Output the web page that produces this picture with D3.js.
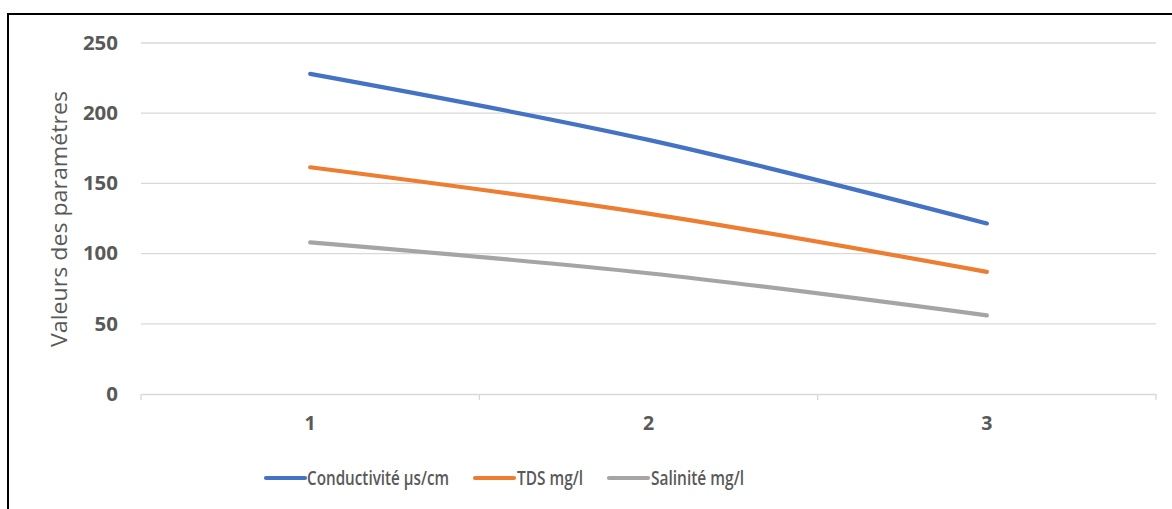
<!DOCTYPE html>
<html><head><meta charset="utf-8">
<script src="https://cdn.jsdelivr.net/npm/d3@7"></script>
<style>body{margin:0;background:#fff}svg{display:block}</style>
</head><body>
<script>
const categories = ["1", "2", "3"];
const seriesNames = ["Conductivité µs/cm", "TDS mg/l", "Salinité mg/l"];
const conductivite = [228, 181, 121.5];
const tds = [161.5, 128.5, 87];
const salinite = [108, 86, 56];
const yTicks = [0, 50, 100, 150, 200, 250];
const colors = ["#4472C4", "#ED7D31", "#A5A5A5"];
const seriesValues = [conductivite, tds, salinite];

(function () {
const W = 1172, H = 509;
const svg = d3.select("body").append("svg").attr("width", W).attr("height", H);
svg.append("rect").attr("width", W).attr("height", H).attr("fill", "#fff");
svg.append("rect").attr("x", 8).attr("y", 14).attr("width", W + 20).attr("height", H + 20)
  .attr("fill", "none").attr("stroke", "#000").attr("stroke-width", 2);

const pLeft = 141, pRight = 1156, pTop = 43, pBottom = 394;
const x = d3.scaleBand().domain(categories).range([pLeft, pRight]);
const y = d3.scaleLinear().domain([0, 250]).range([pBottom, pTop]);
const font = "'Open Sans', 'Liberation Sans', sans-serif";
const textCol = "#595959";

// gridlines
svg.append("g").selectAll("line").data(yTicks.filter(d => d > 0)).join("line")
  .attr("x1", pLeft).attr("x2", pRight).attr("y1", d => y(d)).attr("y2", d => y(d))
  .attr("stroke", "#D9D9D9").attr("stroke-width", 1.3);

// y axis labels
const ya = svg.append("g").attr("transform", `translate(${pLeft},0)`)
  .call(d3.axisLeft(y).tickValues(yTicks).tickSize(0).tickPadding(23));
ya.select(".domain").remove();
ya.selectAll("text").attr("font-family", font).attr("font-size", 19.5).attr("font-weight", "bold").attr("fill", textCol)
  .attr("textLength", d => String(d).length * 11.7).attr("lengthAdjust", "spacingAndGlyphs");

// x axis
const xa = svg.append("g").attr("transform", `translate(0,${pBottom})`)
  .call(d3.axisBottom(x).tickSize(0).tickPadding(22));
xa.select(".domain").attr("stroke", "#D9D9D9").attr("stroke-width", 1.3);
xa.selectAll("text").attr("font-family", font).attr("font-size", 19.5).attr("font-weight", "bold").attr("fill", textCol);
// category boundary ticks
const bounds = categories.map(c => x(c)).concat([x(categories[categories.length - 1]) + x.bandwidth()]);
svg.append("g").selectAll("line").data(bounds).join("line")
  .attr("x1", d => d).attr("x2", d => d).attr("y1", pBottom).attr("y2", pBottom + 6)
  .attr("stroke", "#D9D9D9").attr("stroke-width", 1.3);

// y title
svg.append("text").attr("transform", `translate(67,219) rotate(-90)`)
  .attr("text-anchor", "middle").attr("font-family", font).attr("font-size", 21)
  .attr("textLength", 256).attr("lengthAdjust", "spacingAndGlyphs")
  .attr("fill", textCol).text("Valeurs des paramétres");

// lines
const line = d3.line().x((d, i) => x(categories[i]) + x.bandwidth() / 2).y(d => y(d))
  .curve(d3.curveCatmullRom.alpha(0.5));
svg.append("g").selectAll("path").data(seriesValues).join("path")
  .attr("d", d => line(d)).attr("fill", "none")
  .attr("stroke", (d, i) => colors[i]).attr("stroke-width", 4.2)
  .attr("stroke-linecap", "round").attr("stroke-linejoin", "round");

// legend
const legendItems = [
  {x: 266, tx: 307, tl: 142},
  {x: 475, tx: 517, tl: 66},
  {x: 609, tx: 651, tl: 93}
];
const lg = svg.append("g");
seriesNames.forEach((n, i) => {
  lg.append("line").attr("x1", legendItems[i].x).attr("x2", legendItems[i].x + 39)
    .attr("y1", 478).attr("y2", 478).attr("stroke", colors[i]).attr("stroke-width", 4.2)
    .attr("stroke-linecap", "round");
  lg.append("text").attr("x", legendItems[i].tx).attr("y", 485)
    .attr("font-family", font).attr("font-size", 20).attr("font-weight", 600)
    .attr("textLength", legendItems[i].tl).attr("lengthAdjust", "spacingAndGlyphs")
    .attr("fill", textCol).text(n);
});
})();
</script>
</body></html>
